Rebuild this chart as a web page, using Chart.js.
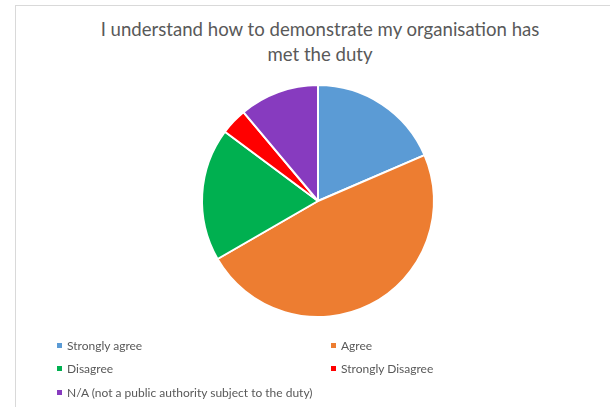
<!DOCTYPE html>
<html>
<head>
<meta charset="utf-8">
<script src="https://cdn.jsdelivr.net/npm/chart.js@4.4.1/dist/chart.umd.min.js"></script>
<style>
  html, body { margin: 0; padding: 0; background: #fff; }
  #wrap { position: relative; width: 610px; height: 407px; overflow: hidden; font-family: Lato, "Open Sans", sans-serif; }
  #frame { position: absolute; left: 15px; top: 5px; width: 620px; height: 420px; border: 1px solid #d9d9d9; box-sizing: border-box; }
  #title { position: absolute; left: 15px; width: 610px; top: 17px; text-align: center; color: #595959; font-size: 18.6px; line-height: 25px; }
  canvas { position: absolute; left: 0; top: 0; }
  .leg { position: absolute; color: #595959; font-size: 12px; line-height: 14px; white-space: nowrap; }
  .leg i { display: inline-block; width: 5px; height: 5px; margin-right: 5px; vertical-align: 2px; }
</style>
</head>
<body>
<div id="wrap">
  <div id="frame"></div>
  <div id="title"></div>
  <canvas id="c" width="610" height="407"></canvas>
</div>
<script>
const titleLines = ["I understand how to demonstrate my organisation has", "met the duty"];
const categories = ["Strongly agree", "Agree", "Disagree", "Strongly Disagree", "N/A (not a public authority subject to the duty)"];
const responses = [5, 13, 5, 1, 3];
const sliceColors = ["#5B9BD5", "#ED7D31", "#00B050", "#FF0000", "#873BBF"];

document.getElementById('title').innerHTML = titleLines.join('<br>');

const legendPos = [[57, 339], [331, 339], [57, 362], [331, 362], [57, 386]];
categories.forEach((c, i) => {
  const d = document.createElement('div');
  d.className = 'leg';
  d.style.left = legendPos[i][0] + 'px';
  d.style.top = legendPos[i][1] + 'px';
  const m = document.createElement('i');
  m.style.background = sliceColors[i];
  d.appendChild(m);
  d.appendChild(document.createTextNode(c));
  document.getElementById('wrap').appendChild(d);
});

new Chart(document.getElementById('c'), {
  type: 'pie',
  data: {
    labels: categories,
    datasets: [{
      data: responses,
      backgroundColor: sliceColors,
      borderColor: '#ffffff',
      borderWidth: 2
    }]
  },
  options: {
    responsive: false,
    animation: false,
    layout: { padding: { left: 201, right: 175, top: 84, bottom: 89 } },
    plugins: {
      legend: { display: false },
      title: { display: false },
      tooltip: { enabled: false }
    }
  }
});
</script>
</body>
</html>
